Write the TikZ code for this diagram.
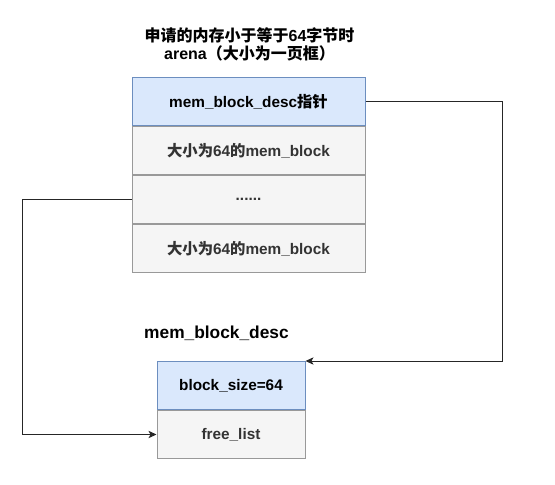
\documentclass[tikz,border=0pt]{standalone}
\usepackage{fontspec}
\setmainfont{Liberation Sans}
\newfontfamily\cjk{Noto Sans CJK SC}
\usetikzlibrary{arrows.meta,positioning}
\newcommand{\zh}[1]{{\cjk #1}}
\definecolor{HeadFill}{HTML}{DAE8FC}
\definecolor{HeadLine}{HTML}{6C8EBF}
\definecolor{RowFill}{HTML}{F5F5F5}
\definecolor{RowLine}{HTML}{999999}
\definecolor{RowText}{HTML}{333333}
\tikzset{
  headbox/.style={draw=HeadLine,fill=HeadFill,line width=0.75pt,minimum height=36pt,align=center,font=\fontsize{11.5}{13}\selectfont\bfseries,text=black,inner sep=0pt},
  rowbox/.style={draw=RowLine,fill=RowFill,line width=0.75pt,minimum height=36pt,align=center,font=\fontsize{11.5}{13}\selectfont\bfseries,text=RowText,inner sep=0pt},
  titletext/.style={align=center,font=\fontsize{12}{13}\selectfont\bfseries,text=black,inner sep=0pt},
  line/.style={-{Stealth[length=6pt,width=5.5pt,inset=1.5pt]},draw=black!85,line width=0.75pt}
}
\begin{document}
\begin{tikzpicture}[x=0.75pt,y=-0.75pt,node distance=0pt]
  \useasboundingbox (0,0) rectangle (555,484);
  % arena page
  \node[titletext] (title) at (249.5,44.5) {\zh{申请的内存小于等于}64\zh{字节时}\\arena\zh{（大小为一页框）}};
  \node[headbox,minimum width=174.75pt,anchor=north] (ptr) at (248.5,77) {mem\_block\_desc\zh{指针}};
  \node[rowbox,minimum width=174.75pt,below=of ptr] (blkA) {\zh{大小为}64\zh{的}mem\_block};
  \node[rowbox,minimum width=174.75pt,below=of blkA] (dots) {......};
  \node[rowbox,minimum width=174.75pt,below=of dots] (blkB) {\zh{大小为}64\zh{的}mem\_block};
  % descriptor
  \node[titletext,font=\fontsize{13}{15}\selectfont\bfseries] (desc) at (216.5,333) {mem\_block\_desc};
  \node[headbox,minimum width=111pt,anchor=north] (size) at (231,361) {block\_size=64};
  \node[rowbox,minimum width=111pt,below=of size] (free) {free\_list};
  % connectors
  \coordinate (rturn) at (502,0);
  \coordinate (lturn) at (22,0);
  \draw[line] (ptr.east) -- (ptr.east -| rturn) |- (size.north east);
  \draw[line] (dots.west) -- (dots.west -| lturn) |- (free.west);
\end{tikzpicture}
\end{document}
